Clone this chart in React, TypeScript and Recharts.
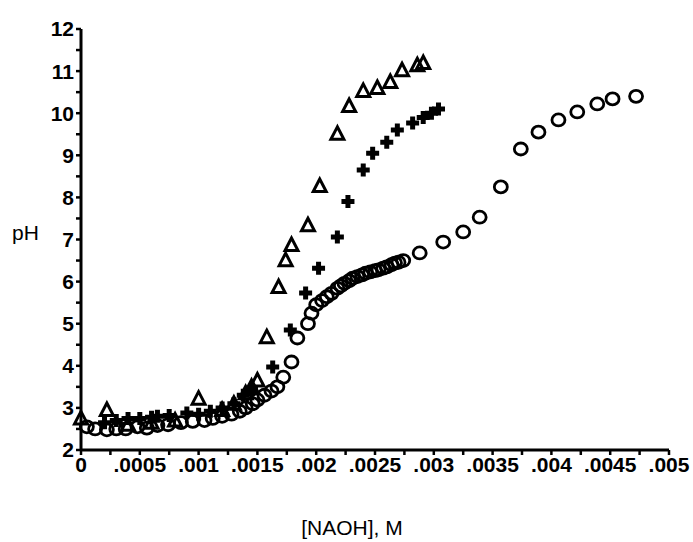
import React from 'react';
import { ScatterChart, Scatter, XAxis, YAxis, Label } from 'recharts';

// [NaOH] (M), pH
const triangleSeries = [
  [0, 2.75], [0.00022, 2.95], [0.0004, 2.6], [0.0006, 2.65], [0.0008, 2.7],
  [0.001, 3.22], [0.0012, 2.95], [0.0013, 3.1], [0.0014, 3.35], [0.00145, 3.5],
  [0.0015, 3.65], [0.00158, 4.68], [0.00168, 5.87], [0.00174, 6.51], [0.00179, 6.87],
  [0.00193, 7.34], [0.00203, 8.27], [0.00218, 9.51], [0.00228, 10.17], [0.0024, 10.53],
  [0.00252, 10.6], [0.00263, 10.74], [0.00273, 11.02], [0.00286, 11.14], [0.00291, 11.19],
];

const crossSeries = [
  [0.0002, 2.65], [0.0003, 2.7], [0.0004, 2.75], [0.0005, 2.75], [0.0006, 2.78],
  [0.00065, 2.8], [0.00075, 2.82], [0.0009, 2.88], [0.001, 2.85], [0.0011, 2.92],
  [0.0012, 3.0], [0.0013, 3.1], [0.00138, 3.3], [0.00145, 3.45], [0.00163, 3.97],
  [0.00178, 4.85], [0.00191, 5.73], [0.00202, 6.32], [0.00218, 7.06], [0.00227, 7.9],
  [0.0024, 8.65], [0.00248, 9.05], [0.0026, 9.31], [0.00269, 9.6], [0.00282, 9.77],
  [0.00291, 9.9], [0.00298, 10.0], [0.00304, 10.1],
];

const circleSeries = [
  [0.00005, 2.55], [0.00012, 2.5], [0.00022, 2.48], [0.0003, 2.5], [0.00038, 2.5],
  [0.00048, 2.55], [0.00056, 2.52], [0.00065, 2.58], [0.00074, 2.6], [0.00085, 2.65],
  [0.00095, 2.68], [0.00105, 2.7], [0.00112, 2.75], [0.0012, 2.8], [0.00128, 2.85],
  [0.00135, 2.92], [0.0014, 3.0], [0.00146, 3.1], [0.0015, 3.19], [0.00156, 3.3],
  [0.00162, 3.4], [0.00167, 3.5], [0.00172, 3.73], [0.00179, 4.09], [0.00184, 4.66],
  [0.00193, 5.0], [0.00196, 5.25], [0.002, 5.45], [0.00205, 5.55], [0.00209, 5.64],
  [0.00213, 5.72], [0.00218, 5.84], [0.00221, 5.9], [0.00224, 5.96], [0.00228, 6.02],
  [0.00231, 6.08], [0.00235, 6.12], [0.00239, 6.16], [0.00242, 6.2], [0.00246, 6.23],
  [0.0025, 6.26], [0.00253, 6.28], [0.00257, 6.32], [0.0026, 6.35], [0.00264, 6.4],
  [0.00267, 6.44], [0.0027, 6.46], [0.00274, 6.5], [0.00288, 6.68], [0.00308, 6.94],
  [0.00325, 7.18], [0.00339, 7.53], [0.00357, 8.25], [0.00374, 9.15], [0.00389, 9.55],
  [0.00406, 9.84], [0.00422, 10.03], [0.00439, 10.22], [0.00452, 10.34], [0.00472, 10.4],
];

const xTicks = [
  0, 0.00025, 0.0005, 0.00075, 0.001, 0.00125, 0.0015, 0.00175, 0.002, 0.00225,
  0.0025, 0.00275, 0.003, 0.00325, 0.0035, 0.00375, 0.004, 0.00425, 0.0045, 0.00475, 0.005,
];
const yTicks = [2, 2.5, 3, 3.5, 4, 4.5, 5, 5.5, 6, 6.5, 7, 7.5, 8, 8.5, 9, 9.5, 10, 10.5, 11, 11.5, 12];

const toPoints = (rows: number[][]) => rows.map(([x, y]) => ({ x, y }));

const formatX = (v: number) => {
  const i = Math.round(v / 0.00025);
  if (i % 2 !== 0) return '';
  if (i === 0) return '0';
  return v.toFixed(4).replace(/0+$/, '').replace(/^0/, '');
};
const formatY = (v: number) => (Number.isInteger(v) ? String(v) : '');

const CircleMark = (props: any) => (
  <ellipse cx={props.cx} cy={props.cy} rx={6.5} ry={6} fill="none" stroke="#000" strokeWidth={2.8} />
);
const TriangleMark = (props: any) => {
  const { cx, cy } = props;
  return (
    <polygon
      points={`${cx},${cy - 7} ${cx - 6.5},${cy + 5.5} ${cx + 6.5},${cy + 5.5}`}
      fill="none"
      stroke="#000"
      strokeWidth={3}
      strokeLinejoin="miter"
    />
  );
};
const CrossMark = (props: any) => {
  const { cx, cy } = props;
  return (
    <path d={`M${cx - 6.5},${cy} H${cx + 6.5} M${cx},${cy - 6.5} V${cy + 6.5}`} stroke="#000" strokeWidth={5} />
  );
};

const tickStyle = { fill: '#000', fontSize: 21, fontWeight: 700, fontFamily: 'Liberation Sans, Arial, sans-serif' };
const labelStyle = { fill: '#000', fontSize: 21, fontFamily: 'Liberation Sans, Arial, sans-serif' };

export default function App() {
  return (
    <div style={{ position: 'absolute', left: 0, top: 0, background: '#fff' }}>
      <ScatterChart width={693} height={542} margin={{ top: 29, right: 24, bottom: 62, left: 10 }}>
        <XAxis
          type="number"
          dataKey="x"
          domain={[0, 0.005]}
          ticks={xTicks}
          tickFormatter={formatX}
          interval={0}
          height={30}
          tick={tickStyle}
          tickSize={5}
          tickMargin={2}
          stroke="#000"
          axisLine={{ strokeWidth: 3 }}
          tickLine={{ strokeWidth: 2.5 }}
        >
          <Label value="[NAOH], M" position="bottom" offset={40} dx={-23} style={labelStyle} />
        </XAxis>
        <YAxis
          type="number"
          dataKey="y"
          domain={[2, 12]}
          ticks={yTicks}
          tickFormatter={formatY}
          interval={0}
          width={71}
          tick={tickStyle}
          tickSize={5}
          tickMargin={2}
          stroke="#000"
          axisLine={{ strokeWidth: 3 }}
          tickLine={{ strokeWidth: 2.5 }}
        >
          <Label value="pH" position="insideLeft" offset={2} dy={-7} style={labelStyle} />
        </YAxis>
        <Scatter data={toPoints(circleSeries)} shape={CircleMark} isAnimationActive={false} />
        <Scatter data={toPoints(crossSeries)} shape={CrossMark} isAnimationActive={false} />
        <Scatter data={toPoints(triangleSeries)} shape={TriangleMark} isAnimationActive={false} />
      </ScatterChart>
    </div>
  );
}
